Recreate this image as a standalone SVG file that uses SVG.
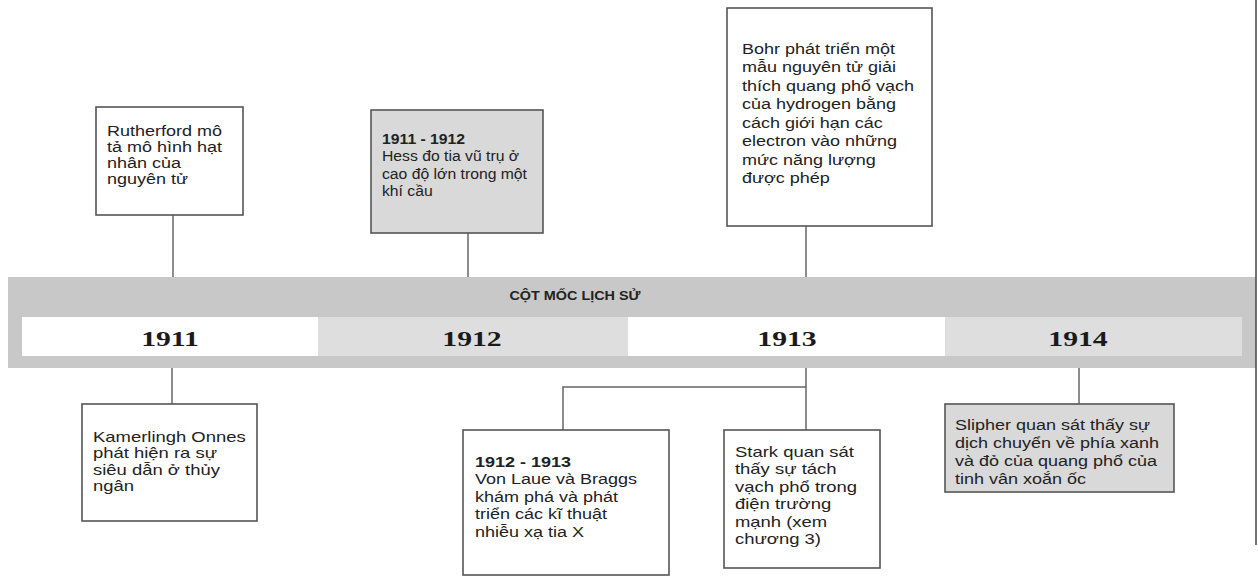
<svg xmlns="http://www.w3.org/2000/svg" width="1258" height="582" viewBox="0 0 1258 582">
<style>
.box{fill:#ffffff;stroke:#555555;stroke-width:1.6}
.gbox{fill:#d9d9d9;stroke:#555555;stroke-width:1.6}
.t{font-family:"Liberation Sans",Arial,sans-serif;font-size:15px;fill:#222222}
.b{font-weight:bold}
.yr{font-family:"Liberation Serif","Times New Roman",serif;font-size:22px;font-weight:bold;fill:#1a1a1a;text-anchor:middle}
.hd{font-family:"Liberation Sans",Arial,sans-serif;font-size:12px;font-weight:bold;fill:#222222;text-anchor:middle}
.con{stroke:#666666;stroke-width:1.5;fill:none}
</style>
<rect width="1258" height="582" fill="#ffffff"/>
<g id="timeline">
<rect x="8" y="277" width="1248" height="91" fill="#c8c8c8"/>
<rect x="22" y="317" width="296" height="39" fill="#ffffff"/>
<rect x="318" y="317" width="310" height="39" fill="#dedede"/>
<rect x="628" y="317" width="317" height="39" fill="#ffffff"/>
<rect x="945" y="317" width="297" height="39" fill="#dedede"/>
<g transform="translate(575,0) scale(1.2,1)"><text class="hd" x="0" y="300">CỘT MỐC LỊCH SỬ</text></g>
<g transform="translate(170,0) scale(1.35,1)"><text class="yr" x="0" y="346">1911</text></g>
<g transform="translate(472,0) scale(1.35,1)"><text class="yr" x="0" y="346">1912</text></g>
<g transform="translate(787,0) scale(1.35,1)"><text class="yr" x="0" y="346">1913</text></g>
<g transform="translate(1078,0) scale(1.35,1)"><text class="yr" x="0" y="346">1914</text></g>
</g>
<g id="connectors">
<line class="con" x1="173" y1="215" x2="173" y2="277"/>
<line class="con" x1="468" y1="233" x2="468" y2="277"/>
<line class="con" x1="806" y1="226" x2="806" y2="277"/>
<line class="con" x1="172" y1="368" x2="172" y2="404"/>
<line class="con" x1="806" y1="368" x2="806" y2="430"/>
<polyline class="con" points="563,430 563,387 806,387"/>
<line class="con" x1="1079" y1="368" x2="1079" y2="404"/>
</g>
<g id="rutherford">
<rect class="box" x="96" y="107" width="147" height="108"/>
<g transform="translate(107,0) scale(1.2,1)"><text class="t"><tspan x="0" y="136">Rutherford mô</tspan><tspan x="0" y="152">tả mô hình hạt</tspan><tspan x="0" y="168">nhân của</tspan><tspan x="0" y="184">nguyên tử</tspan></text></g>
</g>
<g id="hess">
<rect class="gbox" x="371" y="110" width="172" height="123"/>
<g transform="translate(382,0) scale(1.05,1)"><text class="t"><tspan class="b" x="0" y="144">1911 - 1912</tspan><tspan x="0" y="161.5">Hess đo tia vũ trụ ở</tspan><tspan x="0" y="179">cao độ lớn trong một</tspan><tspan x="0" y="196.5">khí cầu</tspan></text></g>
</g>
<g id="bohr">
<rect class="box" x="727" y="8" width="205" height="218"/>
<g transform="translate(742,0) scale(1.2,1)"><text class="t"><tspan x="0" y="54">Bohr phát triển một</tspan><tspan x="0" y="72.5">mẫu nguyên tử giải</tspan><tspan x="0" y="91">thích quang phổ vạch</tspan><tspan x="0" y="109.5">của hydrogen bằng</tspan><tspan x="0" y="128">cách giới hạn các</tspan><tspan x="0" y="146.5">electron vào những</tspan><tspan x="0" y="165">mức năng lượng</tspan><tspan x="0" y="183.5">được phép</tspan></text></g>
</g>
<g id="onnes">
<rect class="box" x="82" y="404" width="175" height="117"/>
<g transform="translate(93,0) scale(1.23,1)"><text class="t"><tspan x="0" y="442">Kamerlingh Onnes</tspan><tspan x="0" y="458.5">phát hiện ra sự</tspan><tspan x="0" y="475">siêu dẫn ở thủy</tspan><tspan x="0" y="491.5">ngân</tspan></text></g>
</g>
<g id="vonlaue">
<rect class="box" x="463" y="430" width="206" height="145"/>
<g transform="translate(475,0) scale(1.2,1)"><text class="t"><tspan class="b" x="0" y="467">1912 - 1913</tspan><tspan x="0" y="484.5">Von Laue và Braggs</tspan><tspan x="0" y="502">khám phá và phát</tspan><tspan x="0" y="519.5">triển các kĩ thuật</tspan><tspan x="0" y="537">nhiễu xạ tia X</tspan></text></g>
</g>
<g id="stark">
<rect class="box" x="724" y="430" width="156" height="138"/>
<g transform="translate(735,0) scale(1.23,1)"><text class="t"><tspan x="0" y="457">Stark quan sát</tspan><tspan x="0" y="474.5">thấy sự tách</tspan><tspan x="0" y="492">vạch phổ trong</tspan><tspan x="0" y="509.5">điện trường</tspan><tspan x="0" y="527">mạnh (xem</tspan><tspan x="0" y="544.5">chương 3)</tspan></text></g>
</g>
<g id="slipher">
<rect class="gbox" x="945" y="404" width="229" height="88"/>
<g transform="translate(955,0) scale(1.2,1)"><text class="t"><tspan x="0" y="430">Slipher quan sát thấy sự</tspan><tspan x="0" y="448">dịch chuyển về phía xanh</tspan><tspan x="0" y="466">và đỏ của quang phổ của</tspan><tspan x="0" y="484">tinh vân xoắn ốc</tspan></text></g>
</g>
<line x1="1256" y1="0" x2="1256" y2="545" stroke="#444444" stroke-width="1.5"/>
</svg>
